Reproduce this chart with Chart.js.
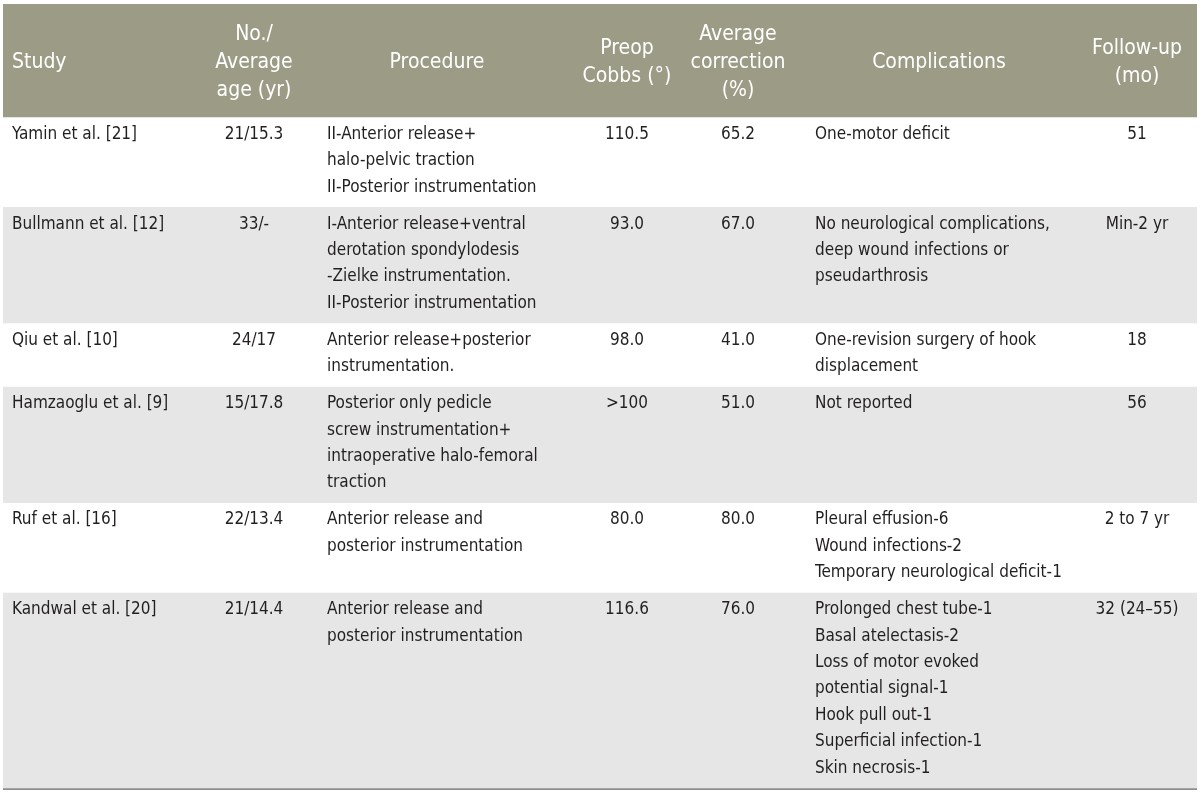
<!DOCTYPE html>
<html lang="en">
<head>
  <meta charset="UTF-8">
  <title>Surgical outcomes table</title>
  <script src="https://cdn.jsdelivr.net/npm/chart.js"></script>
  <style>
    body {
      margin: 0;
      background: #ffffff;
    }
    .chart-container {
      position: relative;
      width: 1200px;
      height: 793px;
    }
  </style>
</head>
<body>
  <div class="chart-container">
    <canvas id="tableChart"></canvas>
  </div>

  <script>
    // Table content
    const headers = [
      ['Study'],
      ['No./', 'Average', 'age (yr)'],
      ['Procedure'],
      ['Preop', 'Cobbs (°)'],
      ['Average', 'correction', '(%)'],
      ['Complications'],
      ['Follow-up', '(mo)']
    ];
    const studies = ['Yamin et al. [21]', 'Bullmann et al. [12]', 'Qiu et al. [10]',
      'Hamzaoglu et al. [9]', 'Ruf et al. [16]', 'Kandwal et al. [20]'];
    const numberAge = ['21/15.3', '33/-', '24/17', '15/17.8', '22/13.4', '21/14.4'];
    const procedures = [
      ['II-Anterior release+', 'halo-pelvic traction', 'II-Posterior instrumentation'],
      ['I-Anterior release+ventral', 'derotation spondylodesis', '-Zielke instrumentation.', 'II-Posterior instrumentation'],
      ['Anterior release+posterior', 'instrumentation.'],
      ['Posterior only pedicle', 'screw instrumentation+', 'intraoperative halo-femoral', 'traction'],
      ['Anterior release and', 'posterior instrumentation'],
      ['Anterior release and', 'posterior instrumentation']
    ];
    const preopCobbs = ['110.5', '93.0', '98.0', '>100', '80.0', '116.6'];
    const avgCorrection = ['65.2', '67.0', '41.0', '51.0', '80.0', '76.0'];
    const complications = [
      ['One-motor deficit'],
      ['No neurological complications,', 'deep wound infections or', 'pseudarthrosis'],
      ['One-revision surgery of hook', 'displacement'],
      ['Not reported'],
      ['Pleural effusion-6', 'Wound infections-2', 'Temporary neurological deficit-1'],
      ['Prolonged chest tube-1', 'Basal atelectasis-2', 'Loss of motor evoked', 'potential signal-1',
       'Hook pull out-1', 'Superficial infection-1', 'Skin necrosis-1']
    ];
    const followUp = ['51', 'Min-2 yr', '18', '56', '2 to 7 yr', '32 (24–55)'];

    // Layout (table units: y in text lines, x in pixels across the table)
    const headerHeight = 4.27;
    const rowPadding = 0.40;
    const firstLineOffset = 0.66;
    const headerLineGap = 1.07;
    const headerShift = 0.08;
    const ruleHeight = 0.08;
    const columns = [
      { x: 9,    align: 'left',   head: 'left'   },
      { x: 251,  align: 'center', head: 'center' },
      { x: 324,  align: 'left',   head: 434      },
      { x: 624,  align: 'center', head: 'center' },
      { x: 735,  align: 'center', head: 'center' },
      { x: 812,  align: 'left',   head: 936      },
      { x: 1134, align: 'center', head: 'center' }
    ];

    const headerColor = '#9c9c86';
    const shadeColor = '#e6e6e6';
    const textColor = '#231f20';
    const fontFamily = "'Liberation Sans Narrow', 'DejaVu Sans Condensed', 'Roboto', sans-serif";

    // rows as cells of lines
    const rows = studies.map((s, i) => [
      [s], [numberAge[i]], procedures[i], [preopCobbs[i]], [avgCorrection[i]], complications[i], [followUp[i]]
    ]);
    const rowLines = rows.map(r => Math.max(...r.map(c => c.length)));

    const bands = [];
    bands.push({ start: 0, end: headerHeight, color: headerColor });
    let rowStart = headerHeight;
    rowLines.forEach((n, i) => {
      const h = n + rowPadding;
      bands.push({ start: rowStart, end: rowStart + h, color: i % 2 === 1 ? shadeColor : '#ffffff' });
      rowStart += h;
    });
    const tableBottom = rowStart;
    bands.push({ start: tableBottom, end: tableBottom + ruleHeight, color: '#8e8e8e' });

    const datasets = bands.map(b => ({
      data: [[b.start, b.end]],
      backgroundColor: b.color,
      borderWidth: 0,
      borderSkipped: false,
      barPercentage: 1,
      categoryPercentage: 1,
      xAxisID: 'x',
      yAxisID: 'y'
    }));

    const textPlugin = {
      id: 'tableText',
      afterDatasetsDraw(chart) {
        const ctx = chart.ctx;
        const y = chart.scales.y;
        const col = chart.scales.col;
        ctx.save();
        ctx.textBaseline = 'middle';

        // header
        ctx.fillStyle = '#ffffff';
        ctx.font = '21px ' + fontFamily;
        headers.forEach((lines, c) => {
          const spec = columns[c];
          let px, align;
          if (typeof spec.head === 'number') { px = col.getPixelForValue(spec.head); align = 'center'; }
          else { px = col.getPixelForValue(spec.x); align = spec.head; }
          ctx.textAlign = align;
          const mid = headerHeight / 2 + headerShift;
          lines.forEach((t, k) => {
            const v = mid + (k - (lines.length - 1) / 2) * headerLineGap;
            ctx.fillText(t, px, y.getPixelForValue(v));
          });
        });

        // body
        ctx.fillStyle = textColor;
        ctx.font = '17px ' + fontFamily;
        let lineTop = headerHeight;
        rows.forEach((cells, r) => {
          cells.forEach((lines, c) => {
            const spec = columns[c];
            ctx.textAlign = spec.align;
            const px = col.getPixelForValue(spec.x);
            lines.forEach((t, k) => {
              ctx.fillText(t, px, y.getPixelForValue(lineTop + firstLineOffset + k));
            });
          });
          lineTop += rowLines[r] + rowPadding;
        });
        ctx.restore();
      }
    };

    const config = {
      type: 'bar',
      data: {
        labels: ['table'],
        datasets: datasets
      },
      options: {
        responsive: true,
        maintainAspectRatio: false,
        animation: false,
        events: [],
        layout: {
          padding: { left: 3, right: 3, top: 4, bottom: 3 }
        },
        plugins: {
          legend: { display: false },
          tooltip: { enabled: false }
        },
        scales: {
          x: {
            display: false,
            stacked: true
          },
          col: {
            type: 'linear',
            axis: 'x',
            display: false,
            offset: false,
            min: 0,
            max: 1194
          },
          y: {
            display: false,
            stacked: false,
            reverse: true,
            min: 0,
            max: tableBottom + ruleHeight
          }
        }
      },
      plugins: [textPlugin]
    };

    const ctx = document.getElementById('tableChart').getContext('2d');
    const chart = new Chart(ctx, config);
  </script>
</body>
</html>
